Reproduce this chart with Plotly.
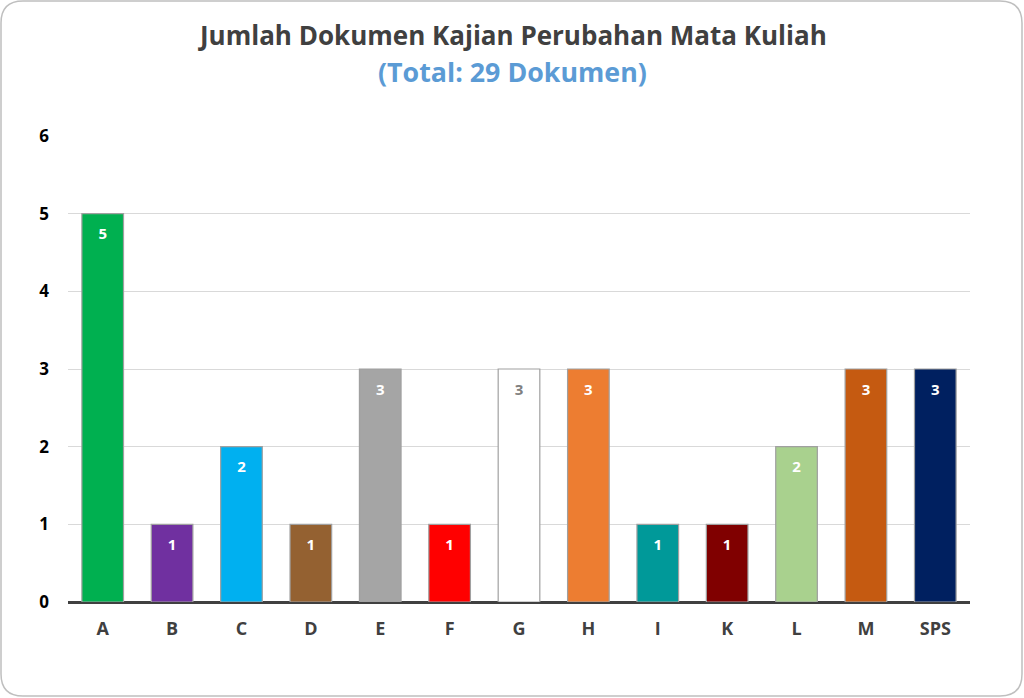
import plotly.graph_objects as go

categories = ["A", "B", "C", "D", "E", "F", "G", "H", "I", "K", "L", "M", "SPS"]
values = [5, 1, 2, 1, 3, 1, 3, 3, 1, 1, 2, 3, 3]
bar_colors = ["#00b050", "#7030a0", "#00b0f0", "#946131", "#a5a5a5", "#ff0000",
              "#ffffff", "#ed7d31", "#009999", "#800000", "#a9d18e", "#c55a11", "#002060"]
label_colors = ["#ffffff"] * 6 + ["#808080"] + ["#ffffff"] * 6
y_ticks = [0, 1, 2, 3, 4, 5, 6]

W, H = 1024, 698
ml, mr, mt, mb = 68, 54, 136, 96

fig = go.Figure()
fig.add_trace(go.Bar(
    x=categories, y=values,
    marker=dict(color=bar_colors, line=dict(color="#a0a0a0", width=1.2)),
    width=0.6, hoverinfo="skip",
))
fig.add_trace(go.Scatter(
    x=categories, y=[v - 0.28 for v in values],
    mode="text", text=[str(v) for v in values],
    textfont=dict(family="Open Sans", size=15, color=label_colors, weight="bold"),
    textposition="middle center", hoverinfo="skip",
))

pw = W - ml - mr
ph = H - mt - mb
def px(x):
    return (x - ml) / pw
def py(y):
    return (H - mb - y) / ph

x0, x1, y0, y1, r = 1, 1022, 1, 696, 22
path = (f"M {px(x0 + r)},{py(y0)} L {px(x1 - r)},{py(y0)} "
        f"Q {px(x1)},{py(y0)} {px(x1)},{py(y0 + r)} "
        f"L {px(x1)},{py(y1 - r)} Q {px(x1)},{py(y1)} {px(x1 - r)},{py(y1)} "
        f"L {px(x0 + r)},{py(y1)} Q {px(x0)},{py(y1)} {px(x0)},{py(y1 - r)} "
        f"L {px(x0)},{py(y0 + r)} Q {px(x0)},{py(y0)} {px(x0 + r)},{py(y0)} Z")

fig.update_layout(
    width=W, height=H,
    margin=dict(l=ml, r=mr, t=mt, b=mb),
    paper_bgcolor="white", plot_bgcolor="white",
    showlegend=False,
    bargap=0.4,
    shapes=[dict(type="path", xref="paper", yref="paper", path=path,
                 line=dict(color="#bfbfbf", width=1.5), layer="below")],
    annotations=[
        dict(text="<b>Jumlah Dokumen Kajian Perubahan Mata Kuliah</b>",
             x=px(W / 2), y=py(35), xref="paper", yref="paper", showarrow=False,
             xanchor="center", yanchor="middle",
             font=dict(family="Open Sans", size=26, color="#404040")),
        dict(text="<b>(Total: 29 Dokumen)</b>",
             x=px(W / 2), y=py(72), xref="paper", yref="paper", showarrow=False,
             xanchor="center", yanchor="middle",
             font=dict(family="Open Sans", size=26.8, color="#5b9bd5")),
    ],
    xaxis=dict(showgrid=False, showline=False, ticks="", ticklabelstandoff=14,
               automargin=False, range=[-0.5, len(categories) - 0.5],
               tickfont=dict(family="Open Sans", size=18, color="#404040", weight="bold")),
    yaxis=dict(range=[0, 6], tickvals=y_ticks, showgrid=True, gridcolor="#d9d9d9",
               gridwidth=1, zeroline=True, zerolinecolor="#404040", zerolinewidth=2.5,
               showline=False, ticks="", ticklabelstandoff=18, automargin=False,
               tickfont=dict(family="Open Sans", size=17, color="#000000", weight="bold")),
)

fig.write_html("out.html", config={"displayModeBar": False},
               post_script="document.body.style.margin='0';")
